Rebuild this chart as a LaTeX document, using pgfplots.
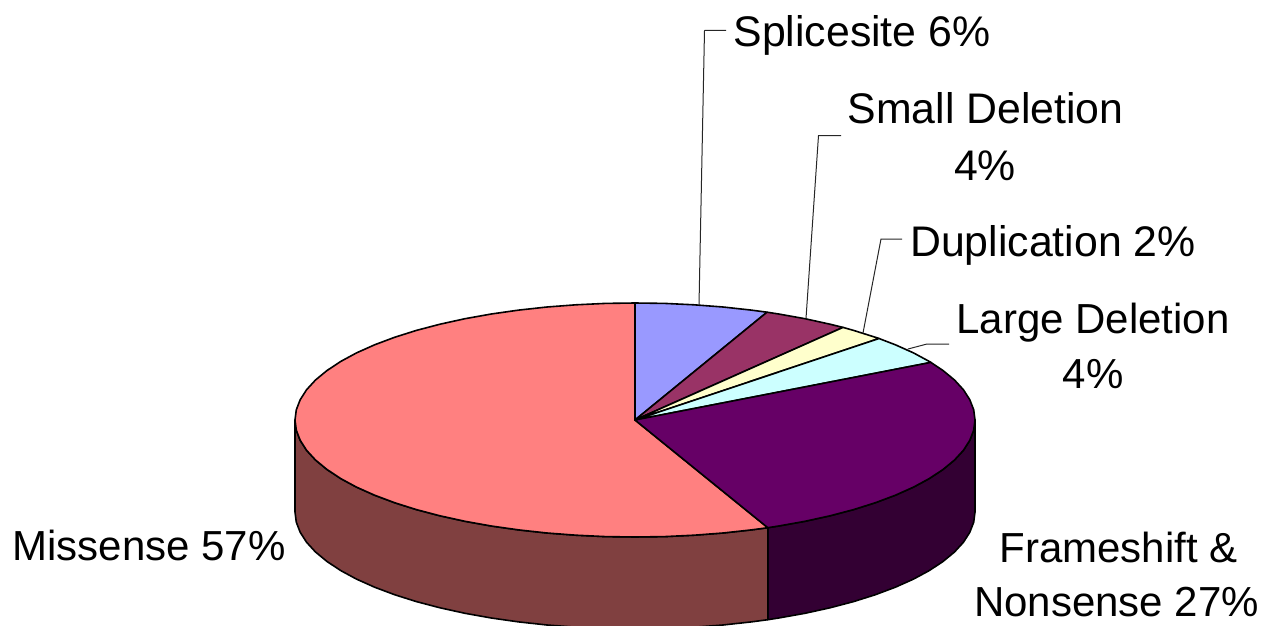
\documentclass[border=0pt]{standalone}
\usepackage{fontspec}
\setmainfont{Liberation Sans}
\usepackage{pgfplots}
\pgfplotsset{compat=1.18}
\definecolor{cSplice}{HTML}{9999FF}
\definecolor{cSmall}{HTML}{993366}
\definecolor{cDup}{HTML}{FFFFCC}
\definecolor{cLarge}{HTML}{CCFFFF}
\definecolor{cFrame}{HTML}{660066}
\definecolor{cMiss}{HTML}{FF8080}
\definecolor{cFrameS}{HTML}{330033}
\definecolor{cMissS}{HTML}{804040}
\tikzset{lab/.style={font=\fontsize{42}{50}\selectfont, anchor=base, text=black, inner sep=0pt, outer sep=0pt},
  labb/.style={lab, font=\fontsize{42.8}{50}\selectfont}}
\begin{document}
\begin{tikzpicture}[x=1pt,y=1pt]
\begin{axis}[
  at={(0,0)}, anchor=south west,
  scale only axis, width=1262pt, height=626pt,
  xmin=0, xmax=1262, ymin=0, ymax=626, y dir=reverse,
  axis lines=none, clip=true,
  every axis plot/.append style={line width=1.6pt, draw=black, line join=round, mark=none},
]
% sides
\addplot[fill=cFrameS] coordinates {
(975,420)(973.7,430.2)(969.8,440.3)(963.4,450.3)(954.5,460)(943.1,469.4)(929.4,478.5)(913.5,487.1)(895.4,495.2)(875.4,502.7)(853.6,509.6)(830,515.8)(805,521.3)(778.7,526)(767.8,527.7)
(767.8,619.7)(778.7,618)(805,613.3)(830,607.8)(853.6,601.6)(875.4,594.7)(895.4,587.2)(913.5,579.1)(929.4,570.5)(943.1,561.4)(954.5,552)(963.4,542.3)(969.8,532.3)(973.7,522.2)(975,512)
} -- cycle;
\addplot[fill=cMissS] coordinates {
(767.8,527.7)(751.3,529.9)(723,533)(694,535.2)(664.6,536.6)(635,537)(605.4,536.6)(576,535.2)(547,533)(518.7,529.9)(491.3,526)(465,521.3)(440,515.8)(416.4,509.6)(394.6,502.7)(374.6,495.2)(356.5,487.1)(340.6,478.5)(326.9,469.4)(315.5,460)(306.6,450.3)(300.2,440.3)(296.3,430.2)(295,420)
(295,512)(296.3,522.2)(300.2,532.3)(306.6,542.3)(315.5,552)(326.9,561.4)(340.6,570.5)(356.5,579.1)(374.6,587.2)(394.6,594.7)(416.4,601.6)(440,607.8)(465,613.3)(491.3,618)(518.7,621.9)(547,625)(576,627.2)(605.4,628.6)(635,629)(664.6,628.6)(694,627.2)(723,625)(751.3,621.9)(767.8,619.7)
} -- cycle;
% top slices
\addplot[fill=cMiss] coordinates {
(635,420)(767.8,527.7)(751.3,529.9)(723,533)(694,535.2)(664.6,536.6)(635,537)(605.4,536.6)(576,535.2)(547,533)(518.7,529.9)(491.3,526)(465,521.3)(440,515.8)(416.4,509.6)(394.6,502.7)(374.6,495.2)(356.5,487.1)(340.6,478.5)(326.9,469.4)(315.5,460)(306.6,450.3)(300.2,440.3)(296.3,430.2)(295,420)(296.3,409.8)(300.2,399.7)(306.6,389.7)(315.5,380)(326.9,370.6)(340.6,361.5)(356.5,352.9)(374.6,344.8)(394.6,337.3)(416.4,330.4)(440,324.2)(465,318.7)(491.3,314)(518.7,310.1)(547,307)(576,304.8)(605.4,303.4)(635,303)
} -- cycle;
\addplot[fill=cSplice] coordinates {
(635,420)(635,303)(664.6,303.4)(694,304.8)(723,307)(751.3,310.1)(767,312.2)
} -- cycle;
\addplot[fill=cSmall] coordinates {
(635,420)(767,312.2)(778.7,314)(805,318.7)(830,324.2)(843,327.4)
} -- cycle;
\addplot[fill=cDup] coordinates {
(635,420)(843,327.4)(853.6,330.4)(875.4,337.3)(879,338.5)
} -- cycle;
\addplot[fill=cLarge] coordinates {
(635,420)(879,338.5)(895.4,344.8)(913.5,352.9)(929.4,361.5)(930.9,362.4)
} -- cycle;
\addplot[fill=cFrame] coordinates {
(635,420)(930.9,362.4)(943.1,370.6)(954.5,380)(963.4,389.7)(969.8,399.7)(973.7,409.8)(975,420)(973.7,430.2)(969.8,440.3)(963.4,450.3)(954.5,460)(943.1,469.4)(929.4,478.5)(913.5,487.1)(895.4,495.2)(875.4,502.7)(853.6,509.6)(830,515.8)(805,521.3)(778.7,526)(767.8,527.7)
} -- cycle;
% leader lines
\addplot[line width=1pt, draw=black!85] coordinates {(699,305)(704.5,30.5)(726,30.5)};
\addplot[line width=1pt, draw=black!85] coordinates {(806,318.5)(818.5,135.5)(841,135.5)};
\addplot[line width=1pt, draw=black!85] coordinates {(863,333)(881,239)(902,239)};
\addplot[line width=1pt, draw=black!85] coordinates {(908,349)(927,344)(949,344)};
% labels
\node[labb] at (axis cs:862,47) {Splicesite 6\%};
\node[labb] at (axis cs:985.5,124) {Small Deletion};
\node[labb] at (axis cs:985,180) {4\%};
\node[labb] at (axis cs:1053,256) {Duplication 2\%};
\node[lab] at (axis cs:1093,333) {Large Deletion};
\node[lab] at (axis cs:1093,388) {4\%};
\node[lab] at (axis cs:149,560.5) {Missense 57\%};
\node[lab] at (axis cs:1118.5,562) {Frameshift \&};
\node[lab] at (axis cs:1116.5,616) {Nonsense 27\%};
\end{axis}
\path[use as bounding box] (0,0) rectangle (1262pt,626pt);
\end{tikzpicture}
\end{document}
